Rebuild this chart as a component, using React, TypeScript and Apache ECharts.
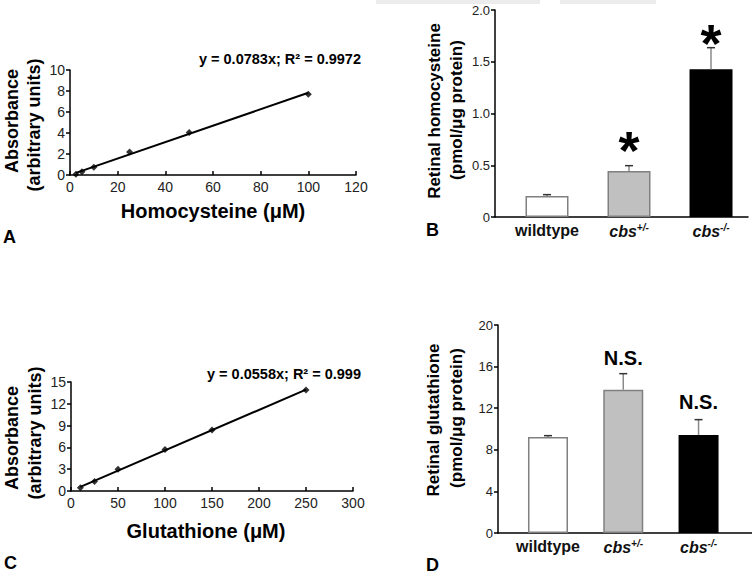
import React, { useEffect, useRef } from 'react';
import * as echarts from 'echarts';

// ---- Panel A: homocysteine standard curve ----
const hcyStdX = [2.5, 5, 10, 25, 50, 100];
const hcyStdY = [0.08, 0.32, 0.74, 2.2, 4.05, 7.7];
const hcyFitX = [2.5, 100];
const hcyFitY = [0.2, 7.83];
const hcyEquation = 'y = 0.0783x; R² = 0.9972';

// ---- Panel C: glutathione standard curve ----
const gshStdX = [10, 25, 50, 100, 150, 250];
const gshStdY = [0.45, 1.3, 3.0, 5.7, 8.4, 13.9];
const gshFitX = [10, 250];
const gshFitY = [0.56, 13.95];
const gshEquation = 'y = 0.0558x; R² = 0.999';

// ---- Panels B & D: retinal levels by genotype ----
const genotypes = ['wildtype', 'cbs+/-', 'cbs-/-'];
const genotypePos = [1, 2, 3];
const hcyMean = [0.203, 0.444, 1.427];
const hcySem = [0.013, 0.052, 0.209];
const hcyMarks = ['', '*', '*'];
const hcyMarkY = [0, 0.65, 1.68];
const gshMean = [9.23, 13.78, 9.42];
const gshSem = [0.13, 1.54, 1.48];
const gshMarks = ['', 'N.S.', 'N.S.'];
const gshMarkY = [0, 16.8, 12.6];

// axis ranges
const hcyStdXAxis = { min: 0, max: 120, interval: 20 };
const hcyStdYAxis = { min: 0, max: 10, interval: 2 };
const gshStdXAxis = { min: 0, max: 300, interval: 50 };
const gshStdYAxis = { min: 0, max: 15, interval: 3 };
const hcyBarYAxis = { min: 0, max: 2, interval: 0.5 };
const gshBarYAxis = { min: 0, max: 20, interval: 4 };

// styles (kept apart from data)
const BAR_FILL = ['#ffffff', '#c0c0c0', '#000000'];
const BAR_BORDER = ['#808080', '#808080', '#000000'];
const FONT = '"Liberation Sans", Arial, Helvetica, sans-serif';

const axisLineStyle = { color: '#000', width: 1.5 };

function lineXAxis(grid: number, r: any) {
  return {
    gridIndex: grid, type: 'value', min: r.min, max: r.max, interval: r.interval,
    axisLine: { show: true, onZero: false, lineStyle: axisLineStyle },
    axisTick: { show: true, inside: true, length: 4, lineStyle: axisLineStyle },
    axisLabel: { fontSize: 14, color: '#222', margin: 5, fontFamily: FONT },
    splitLine: { show: false },
  };
}
function leftYAxis(grid: number, r: any, fontSize: number, fmt?: (v: number) => string) {
  return {
    gridIndex: grid, type: 'value', min: r.min, max: r.max, interval: r.interval,
    axisLine: { show: true, onZero: false, lineStyle: axisLineStyle },
    axisTick: { show: true, inside: false, length: 4, lineStyle: axisLineStyle },
    axisLabel: { fontSize, color: '#222', margin: 5, fontFamily: FONT, formatter: fmt },
    splitLine: { show: false },
  };
}
function barXAxis(grid: number, min: number, max: number) {
  return {
    gridIndex: grid, type: 'value', min, max,
    axisLine: { show: true, onZero: false, lineStyle: axisLineStyle },
    axisTick: { show: false },
    splitLine: { show: false },
    axisLabel: {
      customValues: genotypePos,
      margin: 5,
      formatter: (v: number) => {
        const name = genotypes[genotypePos.indexOf(v)] || '';
        if (name.startsWith('cbs')) return '{i|cbs}{s|' + name.slice(3) + '}';
        return '{b|' + name + '}';
      },
      rich: {
        b: { fontSize: 16, fontWeight: 'bold', color: '#111', fontFamily: FONT },
        i: { fontSize: 16, fontWeight: 'bold', fontStyle: 'italic', color: '#111', fontFamily: FONT },
        s: { fontSize: 10, fontWeight: 'bold', fontStyle: 'italic', color: '#111', fontFamily: FONT, padding: [0, 0, 9, 0] },
      },
    },
  };
}

function errorSeries(xi: number, yi: number, mean: number[], sem: number[], marks: string[], markY: number[], markFont: string) {
  return {
    type: 'custom', xAxisIndex: xi, yAxisIndex: yi, z: 5,
    data: genotypePos.map((x, i) => [x, mean[i], sem[i]]),
    encode: { x: 0, y: 1 },
    renderItem: (params: any, api: any) => {
      const x = api.value(0), m = api.value(1), e = api.value(2);
      const base = api.coord([x, m]);
      const top = api.coord([x, m + e]);
      const children: any[] = [
        { type: 'line', shape: { x1: base[0], y1: base[1], x2: top[0], y2: top[1] }, style: { stroke: '#8a8a8a', lineWidth: 1.5 } },
        { type: 'line', shape: { x1: top[0] - 4, y1: top[1], x2: top[0] + 4, y2: top[1] }, style: { stroke: '#333', lineWidth: 1.5 } },
      ];
      const idx = params.dataIndex;
      if (marks[idx]) {
        const p = api.coord([x, markY[idx]]);
        children.push({
          type: 'text', x: p[0], y: p[1],
          style: { text: marks[idx], font: markFont, fill: '#000', align: 'center', verticalAlign: 'middle', textAlign: 'center', textVerticalAlign: 'middle' },
        });
      }
      return { type: 'group', children };
    },
  };
}

function txt(text: string, x: number, y: number, size: number, align: string, rot = 0) {
  return {
    type: 'text', x, y, rotation: rot,
    style: {
      text, font: 'bold ' + size + 'px ' + FONT, fill: '#000',
      align, verticalAlign: 'middle', textAlign: align, textVerticalAlign: 'middle',
    },
  };
}

export default function App() {
  const ref = useRef<HTMLDivElement>(null);
  useEffect(() => {
    if (!ref.current) return;
    const chart = echarts.init(ref.current, null, { renderer: 'svg' });
    const R = Math.PI / 2;
    chart.setOption({
      animation: false,
      backgroundColor: '#fff',
      grid: [
        { left: 70, top: 70, width: 286, height: 105, outerBoundsMode: 'none' },
        { left: 495, top: 10, width: 253, height: 207, outerBoundsMode: 'none' },
        { left: 71, top: 382, width: 282, height: 109, outerBoundsMode: 'none' },
        { left: 498, top: 325, width: 254, height: 208, outerBoundsMode: 'none' },
      ],
      xAxis: [
        lineXAxis(0, hcyStdXAxis),
        barXAxis(1, 0.366, 3.451),
        lineXAxis(2, gshStdXAxis),
        barXAxis(3, 0.336, 3.71),
      ],
      yAxis: [
        leftYAxis(0, hcyStdYAxis, 14),
        leftYAxis(1, hcyBarYAxis, 13, (v: number) => (v === 0 ? '0' : v.toFixed(1))),
        leftYAxis(2, gshStdYAxis, 14),
        leftYAxis(3, gshBarYAxis, 13),
      ],
      series: [
        {
          type: 'line', xAxisIndex: 0, yAxisIndex: 0, showSymbol: false, symbol: 'none',
          data: hcyFitX.map((x, i) => [x, hcyFitY[i]]), lineStyle: { color: '#000', width: 2 },
        },
        {
          type: 'scatter', xAxisIndex: 0, yAxisIndex: 0, symbol: 'diamond', symbolSize: 7,
          data: hcyStdX.map((x, i) => [x, hcyStdY[i]]), itemStyle: { color: '#000' },
        },
        {
          type: 'line', xAxisIndex: 2, yAxisIndex: 2, showSymbol: false, symbol: 'none',
          data: gshFitX.map((x, i) => [x, gshFitY[i]]), lineStyle: { color: '#000', width: 2 },
        },
        {
          type: 'scatter', xAxisIndex: 2, yAxisIndex: 2, symbol: 'diamond', symbolSize: 7,
          data: gshStdX.map((x, i) => [x, gshStdY[i]]), itemStyle: { color: '#000' },
        },
        {
          type: 'bar', xAxisIndex: 1, yAxisIndex: 1, barWidth: 43,
          data: genotypePos.map((x, i) => ({ value: [x, hcyMean[i]], itemStyle: { color: BAR_FILL[i], borderColor: BAR_BORDER[i], borderWidth: 1.5 } })),
        },
        errorSeries(1, 1, hcyMean, hcySem, hcyMarks, hcyMarkY, 'bold 54px ' + FONT),
        {
          type: 'bar', xAxisIndex: 3, yAxisIndex: 3, barWidth: 40,
          data: genotypePos.map((x, i) => ({ value: [x, gshMean[i]], itemStyle: { color: BAR_FILL[i], borderColor: BAR_BORDER[i], borderWidth: 1.5 } })),
        },
        errorSeries(3, 3, gshMean, gshSem, gshMarks, gshMarkY, 'bold 20px ' + FONT),
      ],
      graphic: [
        { type: 'rect', shape: { x: 376, y: 0, width: 164, height: 4 }, style: { fill: '#ececec' }, silent: true },
        { type: 'rect', shape: { x: 560, y: 0, width: 96, height: 4 }, style: { fill: '#ececec' }, silent: true },
        // Panel A
        txt(hcyEquation, 361, 59, 14.5, 'right'),
        txt('Absorbance', 12, 121, 18, 'center', R),
        txt('(arbitrary units)', 34, 125, 18, 'center', R),
        txt('Homocysteine (μM)', 213, 211, 20, 'center'),
        txt('A', 3, 237, 18, 'left'),
        // Panel B
        txt('Retinal homocysteine', 434, 111, 17, 'center', R),
        txt('(pmol/μg protein)', 456, 110, 17, 'center', R),
        txt('B', 426, 230, 18, 'left'),
        // Panel C
        txt(gshEquation, 361, 374, 14.5, 'right'),
        txt('Absorbance', 12, 438, 18, 'center', R),
        txt('(arbitrary units)', 35, 433, 18, 'center', R),
        txt('Glutathione (μM)', 206, 531, 20, 'center'),
        txt('C', 4, 563, 18, 'left'),
        // Panel D
        txt('Retinal glutathione', 433, 420, 17, 'center', R),
        txt('(pmol/μg protein)', 456, 418, 17, 'center', R),
        txt('D', 426, 565, 18, 'left'),
      ],
    });
    return () => chart.dispose();
  }, []);
  return <div ref={ref} style={{ position: 'absolute', left: 0, top: 0, width: 752, height: 576 }} />;
}
